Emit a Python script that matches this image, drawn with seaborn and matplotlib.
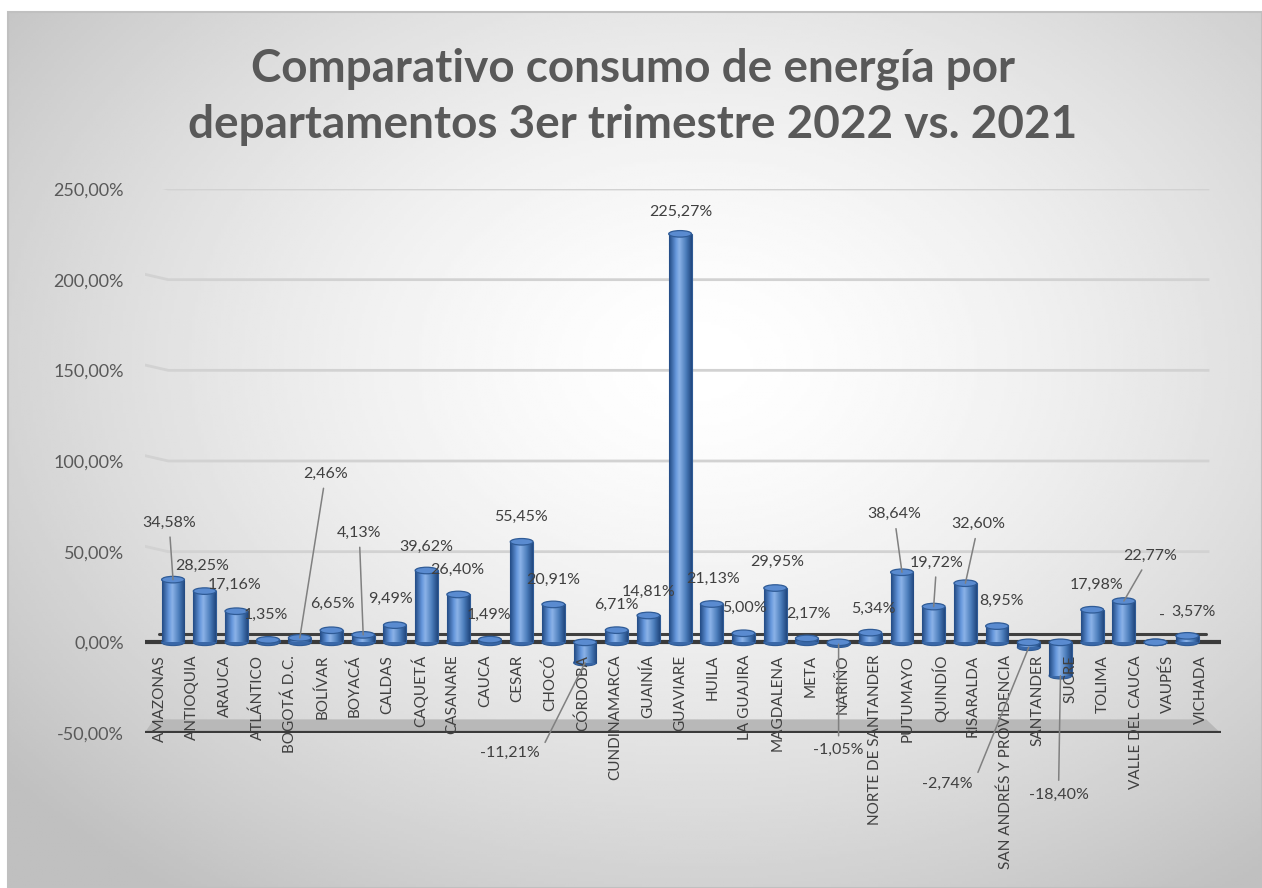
import numpy as np
import pandas as pd
import matplotlib
matplotlib.use("Agg")
import matplotlib.pyplot as plt
from matplotlib.colors import LinearSegmentedColormap
from matplotlib.patches import Ellipse, Polygon, Rectangle
from matplotlib.ticker import FuncFormatter
from matplotlib.transforms import ScaledTranslation
import seaborn as sns

# ---- data ----
departamentos = [
    "AMAZONAS", "ANTIOQUIA", "ARAUCA", "ATLÁNTICO", "BOGOTÁ D.C.", "BOLÍVAR",
    "BOYACÁ", "CALDAS", "CAQUETÁ", "CASANARE", "CAUCA", "CESAR", "CHOCÓ",
    "CÓRDOBA", "CUNDINAMARCA", "GUAINÍA", "GUAVIARE", "HUILA", "LA GUAJIRA",
    "MAGDALENA", "META", "NARIÑO", "NORTE DE SANTANDER", "PUTUMAYO", "QUINDÍO",
    "RISARALDA", "SAN ANDRÉS Y PROVIDENCIA", "SANTANDER", "SUCRE", "TOLIMA",
    "VALLE DEL CAUCA", "VAUPÉS", "VICHADA",
]
variacion = [
    34.58, 28.25, 17.16, 1.35, 2.46, 6.65, 4.13, 9.49, 39.62, 26.40, 1.49,
    55.45, 20.91, -11.21, 6.71, 14.81, 225.27, 21.13, 5.00, 29.95, 2.17,
    -1.05, 5.34, 38.64, 19.72, 32.60, 8.95, -2.74, -18.40, 17.98, 22.77,
    0.00, 3.57,
]
y_ticks = [-50, 0, 50, 100, 150, 200, 250]

# where each data label sits (pixels from the bar end) and whether it has a leader line
label_dx = [-4, -3, -2, -2, 26, 1, -4, -4, 0, -1, -1, -1, 0, -75, 0, 0, 1, 1, 1,
            2, 2, 0, 3, -8, 3, 13, 4, -81, -2, 4, 26, 6, 6]
label_dy = [57, 25, 26, 25, 164, 26, 102, 26, 24, 25, 25, 25, 25, -90, 25, 24, 22,
            25, 25, 26, 25, -106, 24, 58, 44, 59, 25, -137, -119, 25, 45, 26, 24]
leader = {0, 4, 6, 13, 21, 23, 24, 25, 27, 28, 30}
side_leader = {13, 27}


def pct(v):
    return f"{v:.2f}".replace(".", ",") + "%"


sns.set_theme(style="white")
plt.rcParams["font.family"] = ["Lato", "DejaVu Sans"]

W, H = 1262, 888
fig = plt.figure(figsize=(W / 100, H / 100), dpi=100)

# chart area background: soft radial grey gradient with thin border
bg = fig.add_axes([8 / W, 0, 1254 / W, 876 / H], zorder=0)
yy, xx = np.mgrid[0:1:300j, 0:1:420j]
r = np.sqrt(((xx - 0.55) / 0.72) ** 2 + ((yy - 0.40) / 0.75) ** 2)
shade = 1 - 0.25 * np.clip(r, 0, 1) ** 1.5
bg.imshow(shade, cmap="gray", vmin=0, vmax=1, extent=[0, 1, 0, 1],
          aspect="auto", origin="upper")
bg.set_axis_off()
bg.add_patch(Rectangle((0, 0), 1, 1, transform=bg.transAxes, fill=False,
                       edgecolor="#c0c0c0", lw=1.5, clip_on=False))

ax = fig.add_axes([144.5 / W, 155 / H, 1077.6 / W, 544 / H], zorder=1)
ax.patch.set_alpha(0)

df = pd.DataFrame({"Departamento": departamentos, "Variación": variacion})
sns.barplot(data=df, x="Departamento", y="Variación", color="#4f81bd",
            width=0.72, ax=ax, edgecolor="#2f5b96", linewidth=0.8, zorder=2)

# cylinder shading
cyl = LinearSegmentedColormap.from_list(
    "cyl", [(0, "#224a84"), (0.3, "#6597dc"), (0.45, "#8cb3e8"),
            (0.75, "#4a7cba"), (1, "#21477f")])
grad = np.linspace(0, 1, 64).reshape(1, -1)
cap_h = 3.6
for bar in ax.patches[:len(variacion)]:
    x0, w = bar.get_x(), bar.get_width()
    y0, h = bar.get_y(), bar.get_height()
    lo, hi = min(y0, y0 + h), max(y0, y0 + h)
    cx = x0 + w / 2
    ax.add_patch(Ellipse((cx, lo), w, cap_h, facecolor="#3a68a8",
                         edgecolor="#2f5b96", lw=0.8, zorder=2.05))
    if hi - lo > 0.05:
        im = ax.imshow(grad, cmap=cyl, extent=[x0, x0 + w, lo, hi],
                       aspect="auto", zorder=2.1, interpolation="bicubic")
        im.set_clip_path(bar)
    ax.add_patch(Ellipse((cx, hi), w, cap_h, facecolor="#5a8bd0",
                         edgecolor="#2f5b96", lw=0.9, zorder=2.2))

# grid lines, axis line and floor
for g in [50, 100, 150, 200, 250]:
    ax.plot([-0.9, -0.15, 32.7], [g + 3, g, g], color="#d2d2d2", lw=2,
            zorder=0.5, solid_capstyle="butt")
ax.plot([-0.45, 32.6], [4.4, 4.4], color="#404040", lw=2.2, zorder=1.5)
ax.plot([-0.9, 33.05], [0, 0], color="#3a3a3a", lw=3, zorder=1.6,
        solid_capstyle="butt")
ax.add_patch(Polygon([(-0.9, -50), (33.05, -50), (32.6, -42.5), (-0.6, -42.5)],
                     closed=True, facecolor="#b8b8b8", edgecolor="none", zorder=0.8))
ax.plot([-0.9, 33.05], [-50, -50], color="#3a3a3a", lw=3, zorder=1.6,
        solid_capstyle="butt")

# data labels
for i, v in enumerate(variacion):
    txt = pct(v) if v != 0 else "-"
    arrow = None
    if i in leader:
        arrow = dict(arrowstyle="-", color="#808080", lw=1.1, shrinkA=3, shrinkB=0)
        if i in side_leader:
            arrow["relpos"] = (1, 0.5)
    ax.annotate(txt, xy=(i, v), xytext=(label_dx[i], label_dy[i]),
                textcoords="offset pixels", ha="center", va="center",
                fontsize=11.5, color="#404040", arrowprops=arrow, zorder=5)

# axes formatting (spine position first: it resets the ticks)
ax.spines["bottom"].set_position(("data", 0))
for s in ax.spines.values():
    s.set_visible(False)
ax.set_axisbelow(False)
ax.xaxis.set_zorder(4)
ax.yaxis.set_zorder(4)
ax.set_xlim(-0.9, 33.1)
ax.set_ylim(-50, 250)
ax.set_yticks(y_ticks)
ax.yaxis.set_major_formatter(FuncFormatter(lambda v, _: pct(v)))
ax.set_xticks(range(len(departamentos)))
ax.set_xticklabels(departamentos, rotation=90, va="top", ha="center")
ax.tick_params(axis="x", length=0, pad=9, labelsize=11, labelcolor="#404040")
ax.tick_params(axis="y", length=0, pad=15, labelsize=13, labelcolor="#595959")
ax.set_xlabel("")
ax.set_ylabel("")
ax.grid(False)

# perspective: category labels spread slightly outward from the centre
n = len(departamentos)
for i, lbl in enumerate(ax.get_xticklabels()):
    shift = (i - 16) * 0.6 / 72
    lbl.set_transform(lbl.get_transform() + ScaledTranslation(shift, 0, fig.dpi_scale_trans))

fig.text(0.5015, 1 - 81 / H, "Comparativo consumo de energía por",
         ha="center", va="baseline", fontsize=33, fontweight="bold", color="#595959")
fig.text(0.5015, 1 - 138 / H, "departamentos 3er trimestre 2022 vs. 2021",
         ha="center", va="baseline", fontsize=33, fontweight="bold", color="#595959")

fig.savefig("out.png", dpi=100)
